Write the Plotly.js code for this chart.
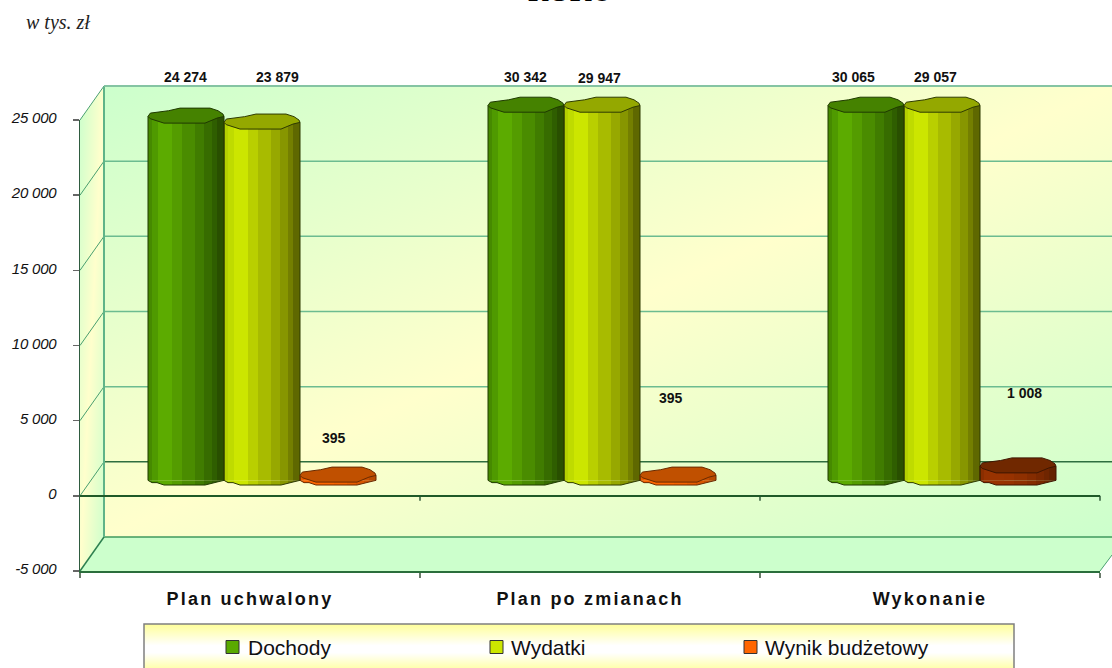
<!DOCTYPE html>
<html lang="pl">
<head>
<meta charset="utf-8">
<script src="https://cdn.plot.ly/plotly-3.0.1.min.js"></script>
<style>
html,body{margin:0;padding:0;background:#fff;overflow:hidden}
.xtick text{letter-spacing:2.2px}
.ytick text{font-style:italic !important;letter-spacing:-0.2px;baseline-shift:2px}
</style>
</head>
<body>
<div id="chart" style="width:1112px;height:668px"></div>
<script>
// ---- data ----
var categories = ["Plan uchwalony", "Plan po zmianach", "Wykonanie"];
var seriesNames = ["Dochody", "Wydatki", "Wynik budżetowy"];
var dochody = [24274, 30342, 30065];
var wydatki = [23879, 29947, 29057];
var wynik = [395, 395, 1008];
var yTickVals = [-5000, 0, 5000, 10000, 15000, 20000, 25000];
var yTickText = ["-5 000", "0", "5 000", "10 000", "15 000", "20 000", "25 000"];

// ---- style and placement ----
var W = 1112, H = 668, AXIS_MAX = 25000, AXIS_MIN = -5000;
var stripStart = [0, 4, 10, 24, 34, 47, 56, 64, 69];
var stripWidth = [4, 6, 14, 10, 13, 9, 8, 5, 7];
var greens  = ["#468a00","#4f9a00","#5cab00","#549c00","#4a8c00","#407c00","#376c00","#2f5e00","#294f00"];
var yellows = ["#b4d000","#bfdb00","#cce600","#b9cf00","#a8bb00","#97a800","#879600","#747f00","#5f6800"];
var oranges = ["#e85c00","#f46200","#ff6600","#fd6500","#f56200","#e85d00","#d85600","#c85000","#b84a00"];
var browns  = ["#8a2e00","#963200","#993300","#973200","#8f3000","#852c00","#7a2800","#6f2500","#642200"];
var capColors = [["#458200","#458200","#458200"],["#94a800","#94a800","#94a800"],["#c05000","#c05000","#702800"]];
var swatchColors = ["#5aaa00","#cce600","#ff6600"];
var edgeColors = [["#1f3a00","#1f3a00","#1f3a00"],["#2e3a00","#2e3a00","#2e3a00"],["#6a2a00","#6a2a00","#3f1600"]];
var capShape = [[0,1],[2.3,-2.3],[20.6,-4.7],[32,-7.3],[62,-7.3],[70,-4.7],[75,-1.3],[76,1],[69,2.7],[57,7.7],[16,7.7],[9,5.3],[2.3,3.3],[0,1]];
var footShape = [[0,0],[4,2.3],[9,2.3],[16,4.7],[57,4.7],[69,1.7],[76,0]];
var CAT_PX = 340, BAR_PX = 76;
var FRONT = {left:80, right:1100, top:120, bottom:571};
var MID = {left:92, right:1112, top:104.5, bottom:555.5, roof:85};
var BACK = {left:104, top:87, bottom:537};
var pxPerVal = (MID.bottom - MID.top) / (AXIS_MAX - AXIS_MIN);
var valueLabelPos = [[[186,77],[277,77],[334,438]],[[525,77],[599,78],[671,398]],[[853,77],[935,77],[1024,393]]];

function px(x){return x / W;}
function py(y){return 1 - y / H;}
function frontY(v){return FRONT.bottom - (v - AXIS_MIN) * (FRONT.bottom - FRONT.top) / (AXIS_MAX - AXIS_MIN);}
function fmt(n){return String(n).replace(/\B(?=(\d{3})+$)/g, " ");}
function footAt(dx){
  for (var i = 1; i < footShape.length; i++) {
    if (dx <= footShape[i][0]) {
      var a = footShape[i - 1], b = footShape[i];
      return a[1] + (b[1] - a[1]) * (dx - a[0]) / (b[0] - a[0]);
    }
  }
  return 0;
}

// ---- painted walls, floor and legend panel ----
function backdrop(){
  var c = document.createElement("canvas"); c.width = W; c.height = H;
  var g = c.getContext("2d");
  function diag(x, y, w, h, path){
    g.save();
    g.beginPath(); path(); g.clip();
    g.translate(x, y); g.scale(w, h);
    var lg = g.createLinearGradient(0, 0, 1, 1);
    lg.addColorStop(0, "#ccffcc"); lg.addColorStop(0.5, "#ffffcc"); lg.addColorStop(1, "#ccffcc");
    g.fillStyle = lg; g.fillRect(0, 0, 1, 1);
    g.restore();
  }
  diag(BACK.left, BACK.top, W - BACK.left, BACK.bottom - BACK.top, function(){g.rect(BACK.left, BACK.top, W - BACK.left, BACK.bottom - BACK.top);});
  diag(FRONT.left, BACK.top, BACK.left - FRONT.left, FRONT.bottom - BACK.top, function(){
    g.moveTo(FRONT.left, FRONT.top); g.lineTo(BACK.left, BACK.top); g.lineTo(BACK.left, BACK.bottom); g.lineTo(FRONT.left, FRONT.bottom); g.closePath();
  });
  g.fillStyle = "#ccffcc";
  g.beginPath(); g.moveTo(FRONT.left, FRONT.bottom); g.lineTo(BACK.left, BACK.bottom); g.lineTo(W, BACK.bottom); g.lineTo(W, 555); g.lineTo(FRONT.right, FRONT.bottom); g.closePath(); g.fill();
  var lg = g.createLinearGradient(0, 624, 0, 672);
  lg.addColorStop(0, "#ffff99"); lg.addColorStop(0.45, "#ffffff"); lg.addColorStop(0.6, "#ffffff"); lg.addColorStop(1, "#ffff99");
  g.fillStyle = lg; g.fillRect(144, 624, 870, 48);
  return c.toDataURL("image/png");
}

// ---- marks ----
var traces = [];
var xCenters = categories.map(function(_, i){return i + 0.5;});
function xOf(i, s, dx){return i + 0.5 + (BAR_PX * (s - 1.5) + dx) / CAT_PX;}
[dochody, wydatki, wynik].forEach(function(values, s){
  var shown = values.map(function(v){return Math.min(v, AXIS_MAX);});
  var colors = s === 0 ? greens.map(function(c){return [c,c,c];})
             : s === 1 ? yellows.map(function(c){return [c,c,c];})
             : oranges.map(function(c,k){return [c,c,browns[k]];});
  stripStart.forEach(function(st, k){
    traces.push({type:"bar", xaxis:"x2", yaxis:"y2", x:xCenters, y:shown.map(function(v){return v - 1 / pxPerVal;}),
      width:stripWidth[k] / CAT_PX, offset:(BAR_PX * (s - 1.5) + st) / CAT_PX,
      marker:{color:colors[k], line:{width:0}}, cliponaxis:false, showlegend:false, hoverinfo:"skip"});
  });
  shown.forEach(function(v, i){
    // rounded underside of each strip, following the foot outline
    stripStart.forEach(function(st, k){
      var a = st, b = st + stripWidth[k], xs = [a], ys = [footAt(a)];
      footShape.forEach(function(p){ if (p[0] > a && p[0] < b) { xs.push(p[0]); ys.push(p[1]); } });
      xs.push(b); ys.push(footAt(b));
      traces.push({type:"scatter", mode:"lines", xaxis:"x2", yaxis:"y2", cliponaxis:false,
        x:[a].concat(xs, [b], [a]).map(function(d){return xOf(i, s, d);}),
        y:[0].concat(ys.map(function(d){return -d / pxPerVal;}), [0], [0]),
        fill:"toself", fillcolor:colors[k][i], line:{width:0, color:colors[k][i]}, showlegend:false, hoverinfo:"skip"});
    });
    traces.push({type:"scatter", mode:"lines", xaxis:"x2", yaxis:"y2", cliponaxis:false,
      x:capShape.map(function(p){return xOf(i, s, p[0]);}),
      y:capShape.map(function(p){return v - p[1] / pxPerVal;}),
      fill:"toself", fillcolor:capColors[s][i], line:{color:edgeColors[s][i], width:1},
      showlegend:false, hoverinfo:"skip"});
    var sx = [xOf(i, s, 0)], sy = [v - 1 / pxPerVal];
    footShape.forEach(function(p){sx.push(xOf(i, s, p[0])); sy.push(-p[1] / pxPerVal);});
    sx.push(xOf(i, s, BAR_PX)); sy.push(v - 1 / pxPerVal);
    traces.push({type:"scatter", mode:"lines", xaxis:"x2", yaxis:"y2", cliponaxis:false, x:sx, y:sy,
      line:{color:edgeColors[s][i], width:1}, showlegend:false, hoverinfo:"skip"});
  });
});
// a marker-less main-axes trace so the front axes are drawn
traces.unshift({type:"scatter", mode:"none", x:xCenters, y:[0,0,0], showlegend:false, hoverinfo:"skip"});

// ---- frame lines ----
var GRID = "#5fb488";
var shapes = [];
function line(x0, y0, x1, y1, color, width){
  shapes.push({type:"line", layer:"below", xref:"paper", yref:"paper", x0:px(x0), y0:py(y0), x1:px(x1), y1:py(y1), line:{color:color, width:width}});
}
yTickVals.forEach(function(v){
  var fy = frontY(v), by = fy + (BACK.bottom - FRONT.bottom);
  var isEdge = v === AXIS_MIN;
  if (!isEdge) line(BACK.left, by, W, by, v === 0 ? "#2f6e40" : (v === AXIS_MAX ? "#5cb085" : "#6cbc90"), 1.5);
  else line(BACK.left, by, W, by, "#3f9a5e", 1.5);
  line(FRONT.left, fy, BACK.left, by, isEdge ? "#2e8050" : "#4aa070", isEdge ? 1.5 : 1);
});
line(BACK.left, BACK.top, BACK.left, BACK.bottom, GRID, 2);
line(FRONT.right, FRONT.bottom, W, 555, "#4aa070", 1);
[1, 2, 3].forEach(function(i){
  var x = FRONT.left + i * CAT_PX;
  line(x, frontY(0), x, frontY(0) + 5, "#2f5a3a", 1.5);
});
// legend panel border and swatches
shapes.push({type:"rect", layer:"below", xref:"paper", yref:"paper", x0:px(144), x1:px(1014), y0:py(624), y1:py(672), line:{color:"#808080", width:1.5}, fillcolor:"rgba(0,0,0,0)"});
var swatchX = [226, 490, 744], legendTextX = [247, 510, 764], LEG_Y = 647;
swatchX.forEach(function(x, s){
  shapes.push({type:"rect", xref:"paper", yref:"paper", x0:px(x), x1:px(x + 13), y0:py(LEG_Y - 6.5), y1:py(LEG_Y + 6.5), fillcolor:swatchColors[s], line:{color:"#333", width:1}});
});

// ---- texts ----
var annotations = [];
function note(text, x, y, opts){
  annotations.push(Object.assign({text:text, xref:"paper", yref:"paper", x:px(x), y:py(y), showarrow:false, xanchor:"center", yanchor:"middle", borderpad:0}, opts));
}
note("w tys. zł", 25, 23, {xanchor:"left", font:{family:"Liberation Serif", size:20, style:"italic", color:"#222"}});
note("<b>ROKU</b>", 570, 8, {yanchor:"bottom", font:{family:"Liberation Serif", size:28, color:"#000"}});
[dochody, wydatki, wynik].forEach(function(values, s){
  values.forEach(function(v, i){
    note("<b>" + fmt(v) + "</b>", valueLabelPos[i][s][0], valueLabelPos[i][s][1], {font:{family:"Liberation Sans", size:14, color:"#111"}});
  });
  note(seriesNames[s], legendTextX[s], LEG_Y, {xanchor:"left", font:{family:"Liberation Sans", size:21, color:"#111"}});
});

// ---- layout ----
var layout = {
  width:W, height:H, margin:{l:0, r:0, t:0, b:0}, paper_bgcolor:"#fff", plot_bgcolor:"rgba(0,0,0,0)",
  showlegend:false, barmode:"overlay", shapes:shapes, annotations:annotations,
  images:[{source:backdrop(), xref:"paper", yref:"paper", x:0, y:1, sizex:1, sizey:1, sizing:"stretch", xanchor:"left", yanchor:"top", layer:"below"}],
  xaxis:{domain:[px(FRONT.left), px(FRONT.right)], range:[0, 3], anchor:"y", tickmode:"array", tickvals:xCenters, ticktext:categories,
    ticks:"", ticklabelstandoff:10, showgrid:false, zeroline:false, showline:true, linecolor:"#2a6e3c", linewidth:2,
    tickfont:{family:"Liberation Sans", size:18, weight:700, color:"#111"},
    minor:{tickvals:[0, 1, 2, 3], ticks:"outside", ticklen:5, tickcolor:"#6a7a6a", tickwidth:1.5, showgrid:false}},
  yaxis:{domain:[py(FRONT.bottom), py(FRONT.top)], range:[AXIS_MIN, AXIS_MAX], anchor:"x", tickmode:"array", tickvals:yTickVals, ticktext:yTickText,
    ticks:"outside", ticklen:6, tickcolor:"#666", tickwidth:1.5, ticklabelstandoff:13, showgrid:false, showline:true, linecolor:"#2f5b3f", linewidth:1.5,
    zeroline:true, zerolinecolor:"#1f5a28", zerolinewidth:2,
    tickfont:{family:"Liberation Sans", size:15, color:"#111"}},
  xaxis2:{domain:[px(MID.left), px(MID.right)], range:[0, 3], anchor:"y2", visible:false},
  yaxis2:{domain:[py(MID.bottom), py(MID.roof)], range:[AXIS_MIN, AXIS_MAX + (MID.top - MID.roof) / pxPerVal], anchor:"x2", visible:false}
};
Plotly.newPlot("chart", traces, layout, {displayModeBar:false, staticPlot:true});
</script>
</body>
</html>
